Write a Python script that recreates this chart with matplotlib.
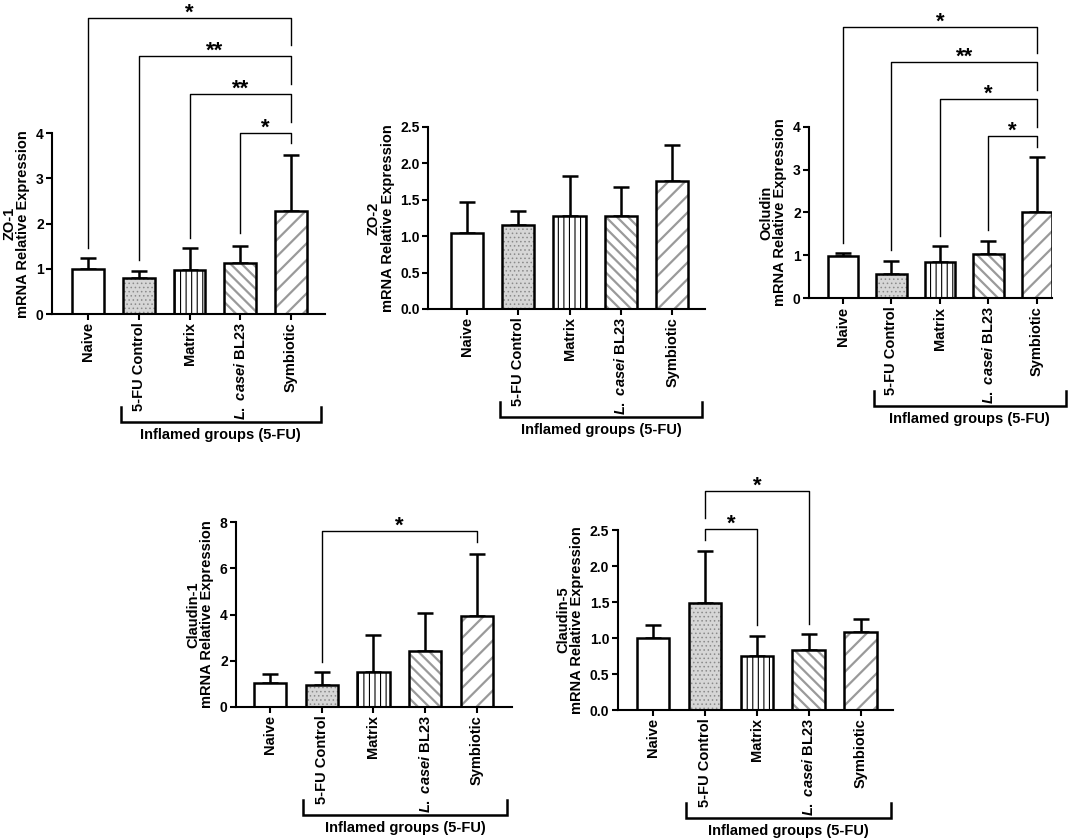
import numpy as np
import matplotlib
matplotlib.use("Agg")
import matplotlib.pyplot as plt

plt.rcParams['font.family'] = ['Liberation Sans', 'DejaVu Sans']
plt.rcParams['font.weight'] = 'bold'
plt.rcParams['mathtext.fontset'] = 'custom'
plt.rcParams['mathtext.it'] = 'Liberation Sans:italic'
plt.rcParams['mathtext.rm'] = 'Liberation Sans'

# ---- data ----
groups = ['Naive', '5-FU Control', 'Matrix', r'$\mathit{L.\ casei}$ BL23', 'Symbiotic']

zo1_mean = [0.99, 0.79, 0.97, 1.14, 2.27]
zo1_sd = [0.24, 0.16, 0.48, 0.37, 1.25]

zo2_mean = [1.04, 1.15, 1.28, 1.28, 1.75]
zo2_sd = [0.43, 0.20, 0.54, 0.39, 0.50]

ocl_mean = [0.98, 0.57, 0.85, 1.03, 2.00]
ocl_sd = [0.07, 0.30, 0.37, 0.31, 1.30]

cl1_mean = [1.01, 0.94, 1.50, 2.43, 3.94]
cl1_sd = [0.39, 0.55, 1.60, 1.65, 2.69]

cl5_mean = [1.00, 1.48, 0.75, 0.83, 1.09]
cl5_sd = [0.18, 0.73, 0.28, 0.23, 0.17]

# comparisons: (group a, group b, label)
zo1_sig = [(0, 4, '*'), (1, 4, '**'), (2, 4, '**'), (3, 4, '*')]
ocl_sig = [(0, 4, '*'), (1, 4, '**'), (2, 4, '*'), (3, 4, '*')]
cl1_sig = [(1, 4, '*')]
cl5_sig = [(1, 2, '*'), (1, 3, '*')]

# ---- layout / style ----
W, H = 1072, 840
faces = ['white', '#d6d6d6', 'white', 'white', 'white']
hatches = [None, '....', '|||', '\\\\\\', '//']
hatch_cols = ['white', '#8a8a8a', 'black', '#9a9a9a', '#9a9a9a']
hatch_lw = [1.0, 0.6, 0.8, 1.6, 1.6]

# bracket geometry per comparison: (height, left leg end, right leg end)
zo1_br = [(6.55, 1.45, 5.96), (5.71, 1.20, 5.10), (4.86, 1.68, 4.26), (4.00, 1.79, 3.78)]
ocl_br = [(6.33, 1.28, 5.71), (5.50, 1.13, 4.85), (4.64, 1.45, 4.00), (3.79, 1.59, 3.53)]
cl1_br = [(7.63, 1.95, 7.16)]
cl5_br = [(2.51, 2.36, 1.18), (3.04, 2.66, 1.20)]

fig = plt.figure(figsize=(W / 100, H / 100), dpi=100)


def make_axes(left, right, top, bottom):
    return fig.add_axes([left / W, 1 - bottom / H, (right - left) / W, (bottom - top) / H])


def panel(ax, mean, sd, name, yticks, fmt, xlim, sig=(), br=()):
    x = np.arange(len(groups))
    bars = ax.bar(x, mean, 0.63, color=faces, edgecolor=hatch_cols, linewidth=0, zorder=2)
    for b, h, lw in zip(bars, hatches, hatch_lw):
        if h:
            b.set_hatch(h)
            if hasattr(b, 'set_hatch_linewidth'):
                b.set_hatch_linewidth(lw)
    ax.bar(x, mean, 0.63, fill=False, edgecolor='black', linewidth=1.8, zorder=3)
    ax.errorbar(x, mean, yerr=[np.zeros(len(sd)), sd], fmt='none', ecolor='black',
                elinewidth=1.8, capsize=6, capthick=1.8, zorder=1)

    ax.set_xlim(*xlim)
    ax.set_ylim(yticks[0], yticks[-1])
    ax.set_yticks(yticks)
    ax.set_yticklabels([fmt.format(t) for t in yticks], fontsize=10, fontweight='bold')
    ax.set_xticks(x)
    ax.set_xticklabels(groups, rotation=90, fontsize=10.5, fontweight='bold')
    ax.set_ylabel(name + '\nmRNA Relative Expression', fontsize=10.5, fontweight='bold',
                  linespacing=1.0)
    for s in ['top', 'right']:
        ax.spines[s].set_visible(False)
    for s in ['left', 'bottom']:
        ax.spines[s].set_linewidth(1.5)
    ax.tick_params(width=1.5, length=4, pad=2)

    for (a, b, lab), (yh, yl, yr) in zip(sig, br):
        ax.plot([a, a, b, b], [yl, yh, yh, yr], color='black', lw=1.0, clip_on=False)
        ax.annotate(lab, ((a + b) / 2, yh), xytext=(0, -0.5), textcoords='offset points',
                    ha='center', va='baseline', fontsize=16, fontweight='bold',
                    annotation_clip=False)

    # bracket under the inflamed groups
    hpx = ax.get_position().height * H
    tr = ax.get_xaxis_transform()
    ax.plot([0.64, 0.64, 4.59, 4.59], [-93 / hpx, -108 / hpx, -108 / hpx, -93 / hpx],
            color='black', lw=1.8, transform=tr, clip_on=False, solid_joinstyle='miter')
    ax.text((0.64 + 4.59) / 2, -121 / hpx, 'Inflamed groups (5-FU)', transform=tr,
            ha='center', va='center', fontsize=10.5, fontweight='bold')


ax1 = make_axes(52, 325, 133.3, 314)
panel(ax1, zo1_mean, zo1_sd, 'ZO-1', [0, 1, 2, 3, 4], '{:g}', (-0.71, 4.67), zo1_sig, zo1_br)

ax2 = make_axes(428, 705, 126.7, 309)
panel(ax2, zo2_mean, zo2_sd, 'ZO-2', [0, 0.5, 1.0, 1.5, 2.0, 2.5], '{:.1f}', (-0.76, 4.64))

ax3 = make_axes(809, 1052, 126.7, 298.3)
panel(ax3, ocl_mean, ocl_sd, 'Ocludin', [0, 1, 2, 3, 4], '{:g}', (-0.70, 4.31), ocl_sig, ocl_br)

ax4 = make_axes(236, 512, 522.3, 706.7)
panel(ax4, cl1_mean, cl1_sd, 'Claudin-1', [0, 2, 4, 6, 8], '{:g}', (-0.66, 4.68), cl1_sig, cl1_br)

ax5 = make_axes(617.7, 893, 530, 710)
panel(ax5, cl5_mean, cl5_sd, 'Claudin-5', [0, 0.5, 1.0, 1.5, 2.0, 2.5], '{:.1f}', (-0.68, 4.62),
      cl5_sig, cl5_br)

fig.savefig('out.png', dpi=100)
